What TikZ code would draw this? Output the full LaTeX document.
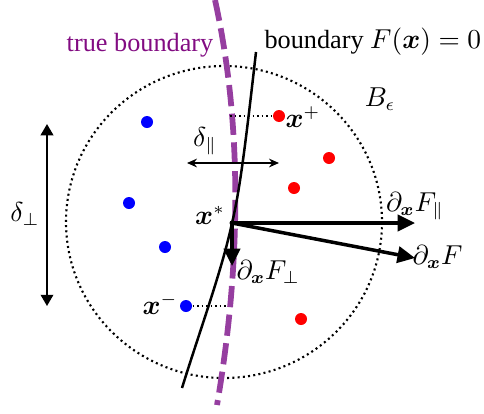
\documentclass[tikz,border=0pt]{standalone}
\usepackage{amsmath}
\usepackage{fontspec}
\setmainfont{Liberation Serif}
\usetikzlibrary{arrows.meta}
\definecolor{tbpurple}{RGB}{150,62,160}
\definecolor{tbtext}{RGB}{130,12,130}
\tikzset{
  pt/.style={circle,fill=#1,inner sep=0pt,minimum size=4.8pt},
  lbl/.style={inner sep=0pt,font=\fontsize{10.5}{12}\selectfont},
  grad/.style={line width=1.4pt,-{Triangle[length=7pt,width=6.5pt]}},
  thin/.style={dash pattern=on 0.7pt off 1.1pt,line width=0.7pt},
}
\begin{document}
\begin{tikzpicture}[x=0.4pt,y=-0.4pt]
\useasboundingbox (0,0) rectangle (484,413);
% ball
\draw[line width=0.85pt,dash pattern=on 0.8pt off 1.3pt] (224,222) ellipse [x radius=158, y radius=156];
\node[lbl] (beps) at (380,99) {$B_\epsilon$};
% true boundary
\draw[tbpurple,line width=2.3pt,dash pattern=on 8.5pt off 3pt] (215,0) .. controls (248,150) and (235,300) .. (217,405);
\node[lbl,text=tbtext] (tbl) at (140,45) {true boundary};
% learned boundary
\coordinate (xs) at (232,223);
\coordinate (bt) at (256,52);
\coordinate (bb) at (182,388);
\draw[line width=1pt] (bt) .. controls (246,140) and (240,190) .. (xs) .. controls (222,270) and (200,330) .. (bb);
\node[lbl,anchor=west] (bl) at (264,42) {boundary $F(\boldsymbol{x})=0$};
% points
\node[pt=blue] (b1) at (147,122) {};
\node[pt=blue] (b2) at (129,203) {};
\node[pt=blue] (b3) at (165,247) {};
\node[pt=blue] (xm) at (186,306) {};
\node[pt=red] (xp) at (279,116) {};
\node[pt=red] (r2) at (329,158) {};
\node[pt=red] (r3) at (294,188) {};
\node[pt=red] (r4) at (301,319) {};
\coordinate (xpf) at (230,116);
\coordinate (xmf) at (227,306);
\draw[thin] (xpf) -- (xp);
\draw[thin] (xm) -- (xmf);
\node[lbl,anchor=west] (xpl) at (285,117) {$\boldsymbol{x}^+$};
\node[lbl,anchor=east] (xml) at (178,304) {$\boldsymbol{x}^-$};
% delta parallel
\coordinate (dpa) at (187,163);
\coordinate (dpb) at (279,163);
\draw[line width=0.6pt,{Stealth[length=4pt,width=3.5pt]}-{Stealth[length=4pt,width=3.5pt]}] (dpa) -- (dpb);
\node[lbl] (dpl) at (205,141) {$\delta_\parallel$};
% delta perp
\coordinate (dqa) at (47,124);
\coordinate (dqb) at (47,306);
\draw[line width=0.8pt,{Triangle[length=4.5pt,width=5pt]}-{Triangle[length=4.5pt,width=5pt]}] (dqa) -- (dqb);
\node[lbl] (dql) at (25,214) {$\delta_\perp$};
% gradients
\coordinate (gpar) at (415,223);
\coordinate (gf) at (415,258);
\coordinate (gperp) at (232,266);
\draw[grad] (xs) -- (gpar);
\draw[grad] (xs) -- (gf);
\draw[grad] (xs) -- (gperp);
\node[circle,fill=black,inner sep=0pt,minimum size=2pt] (xsd) at (xs) {};
\node[lbl] (xsl) at (210,215) {$\boldsymbol{x}^*$};
\node[lbl] (gparl) at (415,206) {$\partial_{\boldsymbol{x}} F_\parallel$};
\node[lbl,anchor=west] (gfl) at (412,257) {$\partial_{\boldsymbol{x}} F$};
\node[lbl,anchor=west] (gperpl) at (236,272) {$\partial_{\boldsymbol{x}} F_\perp$};
\end{tikzpicture}
\end{document}
